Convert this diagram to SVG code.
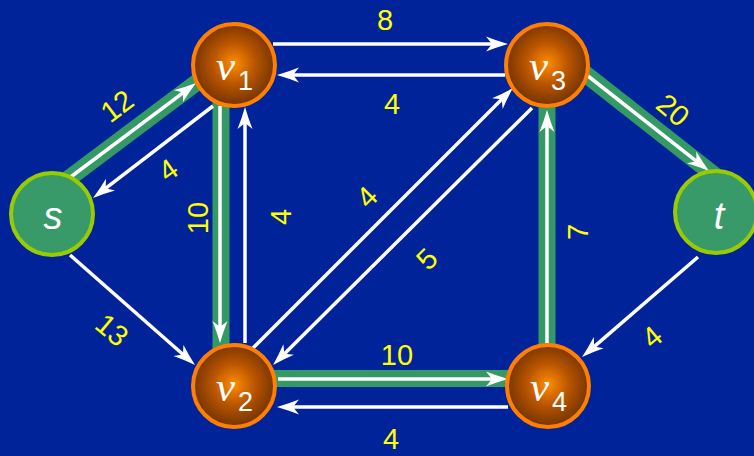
<svg xmlns="http://www.w3.org/2000/svg" width="754" height="456" viewBox="0 0 754 456">
  <defs>
    <radialGradient id="og" cx="50%" cy="48%" r="52%">
      <stop offset="0" stop-color="#ff8c00"/>
      <stop offset="0.5" stop-color="#b85400"/>
      <stop offset="1" stop-color="#723300"/>
    </radialGradient>
    <marker id="ah" viewBox="0 0 22 16" refX="14" refY="8" markerWidth="22" markerHeight="16" markerUnits="userSpaceOnUse" orient="auto">
      <path d="M22,8 Q10,4.5 0,0.5 L6,8 L0,15.5 Q10,11.5 22,8 Z" fill="#ffffff"/>
    </marker>
    <style>
      .band { stroke: #359966; stroke-width: 17; fill: none; }
      .edge { stroke: #ffffff; stroke-width: 3.5; fill: none; marker-end: url(#ah); }
      .vn { fill: url(#og); stroke: #ff7f00; stroke-width: 4; }
      .st { fill: #379a68; stroke: #99cc00; stroke-width: 4; }
      .lbl { font-family: "Liberation Sans", Arial, sans-serif; font-size: 29px; fill: #ffff00; text-anchor: middle; }
      .vv { font-family: "Liberation Serif", "Times New Roman", serif; font-style: italic; font-size: 43px; fill: #ffffff; }
      .sub { font-family: "Liberation Sans", Arial, sans-serif; font-size: 27px; fill: #ffffff; }
      .stl { font-family: "Liberation Sans", Arial, sans-serif; font-style: italic; font-size: 38px; fill: #ffffff; text-anchor: middle; }
    </style>
  </defs>
  <rect width="754" height="456" fill="#00239a"/>
  <g id="connectors">
    <g id="bands">
      <line class="band" x1="54" y1="189.5" x2="208" y2="74"/>
      <line class="band" x1="221" y1="80" x2="221" y2="370"/>
      <line class="band" x1="547" y1="80" x2="547" y2="370"/>
      <line class="band" x1="576.2" y1="66.7" x2="720.8" y2="180.3"/>
      <line class="band" x1="260" y1="378.5" x2="525" y2="378.5"/>
    </g>
    <line class="edge" x1="70" y1="177.5" x2="189.6" y2="87.8"/>
    <line class="edge" x1="213" y1="106" x2="99.4" y2="193.1"/>
    <line class="edge" x1="273" y1="44" x2="500" y2="44"/>
    <line class="edge" x1="505" y1="75" x2="285" y2="75"/>
    <line class="edge" x1="220" y1="106" x2="220" y2="335"/>
    <line class="edge" x1="245" y1="343" x2="245" y2="115"/>
    <line class="edge" x1="253" y1="348" x2="507.3" y2="93.7"/>
    <line class="edge" x1="532" y1="108" x2="278.7" y2="359.4"/>
    <line class="edge" x1="547" y1="343" x2="547" y2="118"/>
    <line class="edge" x1="588" y1="76" x2="702.7" y2="166.1"/>
    <line class="edge" x1="698" y1="257" x2="588.1" y2="351.8"/>
    <line class="edge" x1="70" y1="255" x2="189" y2="359.7"/>
    <line class="edge" x1="278" y1="379" x2="500" y2="379"/>
    <line class="edge" x1="508" y1="407" x2="285" y2="407"/>
  </g>
  <g id="edge-labels">
    <text class="lbl" transform="translate(117,106) rotate(-37)" y="10">12</text>
    <text class="lbl" transform="translate(168,170) rotate(-35)" y="10">4</text>
    <text class="lbl" transform="translate(198,218) rotate(-90)" y="10">10</text>
    <text class="lbl" transform="translate(281,217) rotate(-90)" y="10">4</text>
    <text class="lbl" transform="translate(367,197) rotate(-45)" y="10">4</text>
    <text class="lbl" transform="translate(427,259) rotate(-45)" y="10">5</text>
    <text class="lbl" x="385" y="30">8</text>
    <text class="lbl" x="392" y="114">4</text>
    <text class="lbl" transform="translate(578,232) rotate(-90)" y="10">7</text>
    <text class="lbl" transform="translate(673,110) rotate(40)" y="10">20</text>
    <text class="lbl" transform="translate(652,337) rotate(-40)" y="10">4</text>
    <text class="lbl" transform="translate(112,330) rotate(40)" y="10">13</text>
    <text class="lbl" x="397" y="365">10</text>
    <text class="lbl" x="391" y="449">4</text>
  </g>
  <g id="node-s">
    <circle class="st" cx="52" cy="214" r="41"/>
    <text class="stl" x="53" y="229">s</text>
  </g>
  <g id="node-v1">
    <circle class="vn" cx="234" cy="65" r="41"/>
    <text x="216" y="80"><tspan class="vv">v</tspan><tspan class="sub" dx="3" dy="10">1</tspan></text>
  </g>
  <g id="node-v2">
    <circle class="vn" cx="234" cy="386" r="41"/>
    <text x="216" y="401"><tspan class="vv">v</tspan><tspan class="sub" dx="3" dy="10">2</tspan></text>
  </g>
  <g id="node-v3">
    <circle class="vn" cx="547" cy="65" r="41"/>
    <text x="529" y="80"><tspan class="vv">v</tspan><tspan class="sub" dx="3" dy="10">3</tspan></text>
  </g>
  <g id="node-v4">
    <circle class="vn" cx="548" cy="386" r="41"/>
    <text x="530" y="401"><tspan class="vv">v</tspan><tspan class="sub" dx="3" dy="10">4</tspan></text>
  </g>
  <g id="node-t">
    <circle class="st" cx="716" cy="212" r="41"/>
    <text class="stl" x="719" y="229">t</text>
  </g>
</svg>
